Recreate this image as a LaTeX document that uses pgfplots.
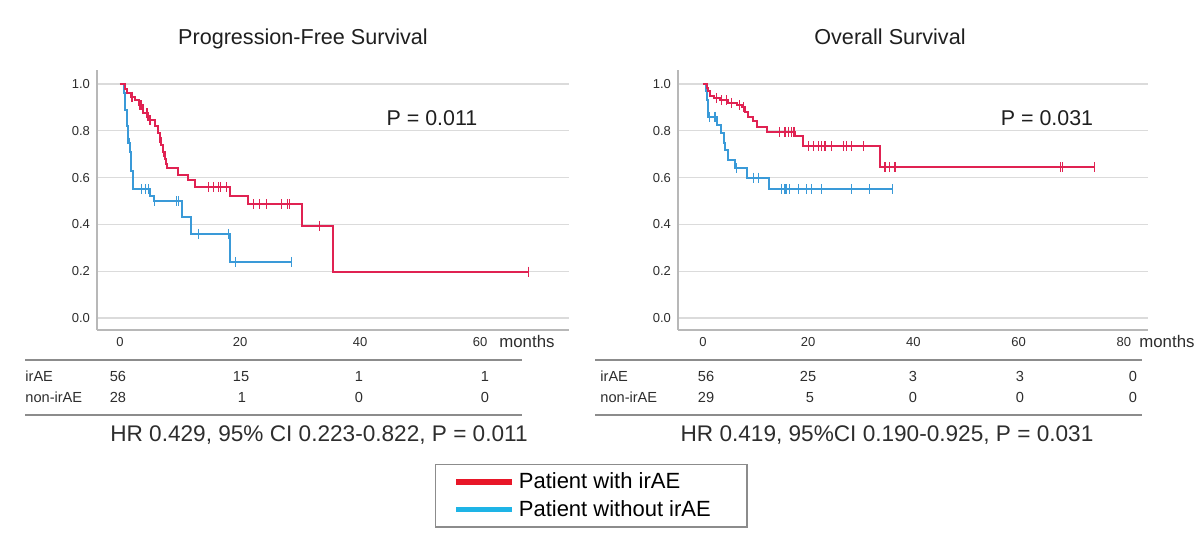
\documentclass[border=0pt]{standalone}
\usepackage{pgfplots}
\pgfplotsset{compat=1.18}
\usepackage{fontspec}
\setmainfont{Liberation Sans}
\definecolor{kmred}{RGB}{224,34,82}
\definecolor{kmblue}{RGB}{58,154,216}
\definecolor{lgred}{RGB}{232,22,40}
\definecolor{lgblue}{RGB}{30,180,230}
\definecolor{txt}{RGB}{45,45,45}
\pgfplotsset{km/.style={
  scale only axis, height=130pt,
  axis x line*=bottom, axis y line*=left,
  axis line style={draw=black!28, line width=1pt, -},
  ymin=-0.0513, ymax=1.06,
  ytick={0,0.2,0.4,0.6,0.8,1.0},
  ymajorgrids, grid style={draw=black!14, line width=0.6pt},
  major tick length=0pt,
  tick label style={font=\fontsize{6.5}{7}\selectfont, text=txt},
  /pgf/number format/assume math mode=true,
  yticklabel style={/pgf/number format/fixed, /pgf/number format/precision=1, /pgf/number format/fixed zerofill},
  every axis plot/.append style={line width=1pt},
  clip=false,
}}
\pgfplotsset{cens/.style={only marks, mark=|, mark size=2.5pt, mark options={line width=0.6pt}}}
\begin{document}
\begin{tikzpicture}
\begin{scope}[x=0.5pt,y=-0.5pt]
\path[use as bounding box] (0,0) rectangle (1200,535);
\end{scope}
% ---------- Left: PFS ----------
\begin{axis}[km, at={(48.5pt,-165pt)}, anchor=south west, width=236pt,
  xmin=-3.83, xmax=74.8, xtick={0,20,40,60},
  legend style={at={(axis description cs:0.716,-0.515)}, anchor=north west,
    draw=black!45, line width=0.7pt, font=\fontsize{11}{13}\selectfont,
    inner xsep=9pt, inner ysep=2pt, row sep=0.3pt, cells={anchor=west}},
  legend image code/.code={\draw[#1, line width=2.6pt] (0pt,0pt) -- (28pt,0pt);}]
\addlegendimage{lgred}\addlegendentry{Patient with irAE}
\addlegendimage{lgblue}\addlegendentry{Patient without irAE\hspace{7pt}\mbox{}}
\addplot[kmblue, const plot, forget plot] coordinates {
(0,1.0) (0.6,0.96) (0.8,0.89) (1.1,0.82) (1.4,0.75) (1.7,0.71) (1.9,0.63) (2.2,0.55)
(5.0,0.52) (5.6,0.50) (10.4,0.43) (11.9,0.36) (18.4,0.24) (28.6,0.24)};
\addplot[kmblue, cens, forget plot] coordinates {
(1.2,0.82) (1.6,0.75) (3.6,0.55) (4.2,0.55) (4.7,0.55) (5.8,0.50) (9.4,0.50) (9.7,0.50)
(13.1,0.36) (18.1,0.36) (19.2,0.24) (28.6,0.24)};
\addplot[kmred, const plot, forget plot] coordinates {
(0,1.0) (0.8,0.98) (1.1,0.96) (1.9,0.946) (2.5,0.93) (3.1,0.91) (3.9,0.875) (4.7,0.846)
(5.8,0.82) (6.4,0.79) (6.7,0.77) (6.9,0.74) (7.2,0.71) (7.5,0.68) (7.6,0.66) (7.8,0.64)
(9.7,0.611) (11.4,0.59) (12.5,0.558) (18.3,0.523) (21.4,0.487) (30.4,0.393) (35.5,0.198) (68,0.198)};
\addplot[kmred, cens, forget plot] coordinates {
(2.0,0.946) (3.2,0.91) (3.5,0.91) (4.5,0.875) (5.0,0.846) (6.6,0.77) (7.3,0.71) (7.6,0.68)
(14.7,0.558) (15.6,0.558) (16.4,0.558) (16.8,0.558) (17.8,0.558)
(22.2,0.487) (23.3,0.487) (24.4,0.487) (26.9,0.487) (27.9,0.487) (28.3,0.487)
(33.3,0.393) (68,0.198)};
\end{axis}
% ---------- Right: OS ----------
\begin{axis}[km, at={(339pt,-165pt)}, anchor=south west, width=235pt,
  xmin=-4.75, xmax=84.6, xtick={0,20,40,60,80}]
\addplot[kmblue, const plot] coordinates {
(0,1.0) (0.5,0.97) (0.7,0.93) (1.0,0.86) (2.6,0.825) (3.5,0.79) (3.9,0.75) (4.2,0.72)
(4.8,0.675) (6.1,0.64) (8.3,0.60) (12.6,0.55) (36.1,0.55)};
\addplot[kmblue, cens] coordinates {
(1.3,0.86) (2.3,0.86) (6.3,0.64) (9.6,0.60) (10.5,0.60) (15.0,0.55) (15.6,0.55) (15.9,0.55)
(16.5,0.55) (18.1,0.55) (19.7,0.55) (20.7,0.55) (22.6,0.55) (28.3,0.55) (31.7,0.55) (36.1,0.55)};
\addplot[kmred, const plot] coordinates {
(0,1.0) (0.7,0.985) (1.0,0.97) (1.3,0.95) (2.0,0.94) (3.2,0.93) (4.8,0.92) (6.4,0.91)
(7.4,0.90) (8.0,0.88) (8.6,0.86) (9.6,0.84) (10.2,0.818) (12.1,0.796) (17.5,0.78)
(19.1,0.735) (33.7,0.644) (74.5,0.644)};
\addplot[kmred, cens] coordinates {
(2.6,0.94) (3.5,0.93) (4.4,0.93) (5.4,0.92) (7.0,0.91) (7.7,0.90)
(14.6,0.796) (15.6,0.796) (16.2,0.796) (16.9,0.796) (17.3,0.796)
(20.0,0.735) (21.0,0.735) (21.9,0.735) (22.6,0.735) (23.2,0.735) (24.5,0.735) (26.7,0.735)
(27.3,0.735) (28.3,0.735) (30.5,0.735) (34.6,0.644) (35.5,0.644) (36.5,0.644)
(67.9,0.644) (68.4,0.644) (74.5,0.644)};
\end{axis}
% ---------- texts and risk tables ----------
\begin{scope}[x=0.5pt,y=-0.5pt, every node/.style={text=txt, inner sep=0pt}]
\node[font=\fontsize{10.8}{12}\selectfont, text=black!88, anchor=base] at (303,45) {Progression-Free Survival};
\node[font=\fontsize{10.8}{12}\selectfont, text=black!88, anchor=base] at (890,45) {Overall Survival};
\node[font=\fontsize{10.7}{12}\selectfont, text=black!88, anchor=base] at (432,126) {P = 0.011};
\node[font=\fontsize{10.7}{12}\selectfont, text=black!88, anchor=base] at (1047,126) {P = 0.031};
\node[font=\fontsize{8.4}{10}\selectfont, anchor=base west] at (499,347) {months};
\node[font=\fontsize{8.4}{10}\selectfont, anchor=base west] at (1139,347) {months};
% left table
\draw[black!45, line width=0.9pt] (25,360) -- (522,360);
\draw[black!45, line width=0.9pt] (25,415) -- (522,415);
\begin{scope}[every node/.append style={font=\fontsize{7.3}{9}\selectfont, anchor=base}]
\node[anchor=base west] at (25,381) {irAE};
\node[anchor=base west] at (25,402) {non-irAE};
\node at (118,381) {56}; \node at (241,381) {15}; \node at (359,381) {1}; \node at (485,381) {1};
\node at (118,402) {28}; \node at (242,402) {1}; \node at (359,402) {0}; \node at (485,402) {0};
% right table
\node[anchor=base west] at (600,381) {irAE};
\node[anchor=base west] at (600,402) {non-irAE};
\node at (706,381) {56}; \node at (808,381) {25}; \node at (913,381) {3}; \node at (1020,381) {3}; \node at (1133,381) {0};
\node at (706,402) {29}; \node at (810,402) {5}; \node at (913,402) {0}; \node at (1020,402) {0}; \node at (1133,402) {0};
\end{scope}
\draw[black!45, line width=0.9pt] (595,360) -- (1142,360);
\draw[black!45, line width=0.9pt] (595,415) -- (1142,415);
\node[font=\fontsize{11.3}{13}\selectfont, anchor=base] at (319,441) {HR 0.429, 95\% CI 0.223-0.822, P = 0.011};
\node[font=\fontsize{11.3}{13}\selectfont, anchor=base] at (887,441) {HR 0.419, 95\%CI 0.190-0.925, P = 0.031};
\end{scope}
\end{tikzpicture}
\end{document}
